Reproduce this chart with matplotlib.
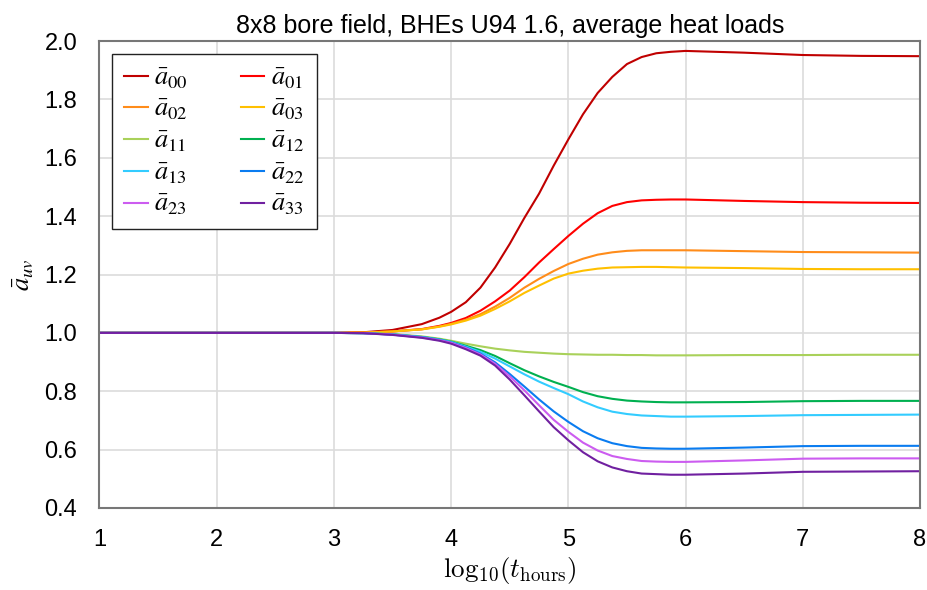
import matplotlib
matplotlib.use("Agg")
import matplotlib.pyplot as plt
from matplotlib.font_manager import FontProperties

plt.rcParams['font.family'] = ['Liberation Sans', 'DejaVu Sans']
plt.rcParams['mathtext.fontset'] = 'cm'

x = [1, 2, 3, 3.25, 3.5, 3.75, 3.9, 4.0, 4.125, 4.25, 4.375, 4.5, 4.625, 4.75, 4.875,
     5.0, 5.125, 5.25, 5.375, 5.5, 5.625, 5.75, 5.875, 6.0, 6.5, 7.0, 7.5, 8.0]

a00 = [1, 1, 1, 1.002, 1.010, 1.030, 1.052, 1.072, 1.105, 1.155, 1.224, 1.305, 1.394, 1.477, 1.573,
       1.663, 1.749, 1.822, 1.877, 1.921, 1.945, 1.958, 1.963, 1.966, 1.960, 1.952, 1.949, 1.948]
a01 = [1, 1, 1, 1.001, 1.005, 1.013, 1.024, 1.034, 1.051, 1.076, 1.108, 1.145, 1.191, 1.241, 1.287,
       1.332, 1.374, 1.410, 1.435, 1.448, 1.454, 1.456, 1.457, 1.457, 1.452, 1.448, 1.446, 1.445]
a02 = [1, 1, 1, 1.001, 1.005, 1.012, 1.022, 1.031, 1.045, 1.064, 1.090, 1.120, 1.155, 1.185, 1.212,
       1.236, 1.254, 1.268, 1.276, 1.281, 1.283, 1.283, 1.283, 1.283, 1.280, 1.277, 1.276, 1.275]
a03 = [1, 1, 1, 1.001, 1.005, 1.012, 1.021, 1.029, 1.042, 1.059, 1.082, 1.108, 1.137, 1.162, 1.186,
       1.203, 1.213, 1.220, 1.224, 1.225, 1.226, 1.226, 1.225, 1.224, 1.222, 1.219, 1.218, 1.218]
a11 = [1, 1, 1, 0.999, 0.996, 0.988, 0.980, 0.973, 0.963, 0.954, 0.946, 0.940, 0.935, 0.932, 0.929,
       0.927, 0.926, 0.925, 0.925, 0.924, 0.924, 0.923, 0.923, 0.923, 0.924, 0.924, 0.925, 0.925]
a12 = [1, 1, 1, 0.999, 0.995, 0.986, 0.978, 0.970, 0.956, 0.941, 0.921, 0.896, 0.872, 0.851, 0.832,
       0.815, 0.797, 0.783, 0.774, 0.768, 0.765, 0.763, 0.762, 0.762, 0.763, 0.766, 0.767, 0.767]
a13 = [1, 1, 1, 0.999, 0.995, 0.986, 0.977, 0.969, 0.953, 0.935, 0.912, 0.885, 0.858, 0.833, 0.811,
       0.790, 0.765, 0.745, 0.730, 0.722, 0.717, 0.715, 0.713, 0.713, 0.715, 0.718, 0.719, 0.720]
a22 = [1, 1, 1, 0.999, 0.994, 0.985, 0.976, 0.967, 0.950, 0.929, 0.899, 0.859, 0.816, 0.772, 0.731,
       0.695, 0.663, 0.639, 0.622, 0.612, 0.606, 0.604, 0.603, 0.603, 0.607, 0.612, 0.613, 0.613]
a23 = [1, 1, 1, 0.999, 0.994, 0.984, 0.975, 0.966, 0.948, 0.926, 0.894, 0.851, 0.803, 0.752, 0.702,
       0.661, 0.624, 0.597, 0.578, 0.568, 0.561, 0.559, 0.558, 0.558, 0.563, 0.569, 0.570, 0.570]
a33 = [1, 1, 1, 0.999, 0.993, 0.983, 0.973, 0.963, 0.944, 0.922, 0.888, 0.840, 0.786, 0.731, 0.677,
       0.632, 0.591, 0.560, 0.539, 0.526, 0.518, 0.516, 0.514, 0.514, 0.518, 0.524, 0.525, 0.526]

names = ['00', '01', '02', '03', '11', '12', '13', '22', '23', '33']
values = [a00, a01, a02, a03, a11, a12, a13, a22, a23, a33]
colors = ['#C00000', '#FF0000', '#FF8C1A', '#FFC000', '#A9D15A',
          '#00B050', '#33CCFF', '#0A7CF0', '#CC5CF0', '#7020A0']

xticks = [1, 2, 3, 4, 5, 6, 7, 8]
yticks = [0.4, 0.6, 0.8, 1.0, 1.2, 1.4, 1.6, 1.8, 2.0]

fig = plt.figure(figsize=(9.28, 5.90), dpi=100)
ax = fig.add_axes([99.5 / 928, 1 - 508 / 590, (920 - 99.5) / 928, (508 - 41) / 590])

lines = {}
for nm, vals, color in zip(names, values, colors):
    ln, = ax.plot(x, vals, color=color, lw=1.5, label=r'$\bar{a}_{' + nm + '}$')
    lines[nm] = ln

ax.set_xlim(1, 8)
ax.set_ylim(0.4, 2.0)
ax.set_xticks(xticks)
ax.set_yticks(yticks)
ax.set_xticklabels([str(t) for t in xticks])
ax.set_yticklabels([f'{t:.1f}' for t in yticks])
ax.tick_params(length=0, labelsize=17)
ax.tick_params(axis='y', pad=16)
ax.tick_params(axis='x', pad=15)
ax.grid(True, color='#DCDCDC', lw=1.2)
ax.set_axisbelow(True)
for s in ax.spines.values():
    s.set_color('#777777')
    s.set_linewidth(1.5)

ax.set_title('8x8 bore field, BHEs U94 1.6, average heat loads', fontsize=18, pad=6)
ax.set_xlabel(r'$\mathrm{log}_{10}(t_{\mathrm{hours}})$', fontsize=19.5, labelpad=3)
ax.set_ylabel(r'$\bar{a}_{uv}$', fontsize=19, labelpad=6, math_fontfamily='stix')

order = ['00', '02', '11', '13', '23', '01', '03', '12', '22', '33']
handles = [lines[k] for k in order]
labels = [lines[k].get_label() for k in order]
leg = ax.legend(handles, labels, ncol=2, loc='upper left', bbox_to_anchor=(0.0152, 0.972),
                prop=FontProperties(size=19, math_fontfamily='stix'),
                frameon=True, fancybox=False, edgecolor='#222222', framealpha=1,
                borderpad=0.45, borderaxespad=0, handlelength=0.9, handletextpad=0.25,
                columnspacing=2.0, labelspacing=0.27)
leg.get_frame().set_linewidth(1.0)

fig.savefig('out.png', dpi=100)
